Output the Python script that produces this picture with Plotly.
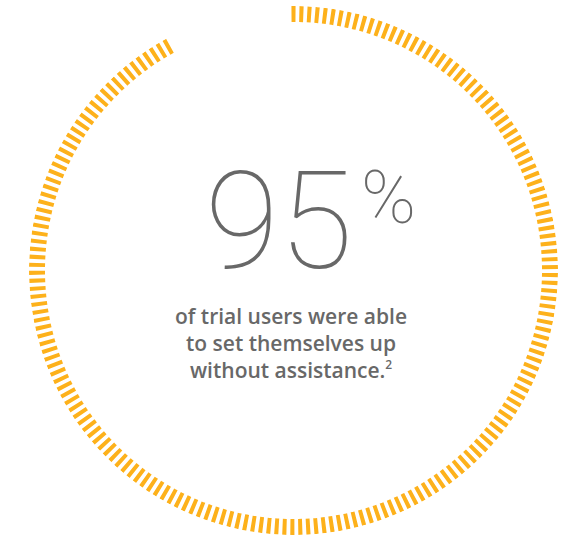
import plotly.graph_objects as go

# ---- data ----
percent_value = 95                      # headline value
ring_total_ticks = 200                  # ticks in a full ring
tick_step_deg = 1.75                    # angular spacing of ticks
headline_number = "95"
headline_unit = "%"
caption_lines = [
    "of trial users were able",
    "to set themselves up",
    "without assistance.<sup><span style='font-size:12px'>2</span></sup>",
]

# ---- styles ----
W, H = 569, 537
ORANGE = "#FDB11B"
GRAY = "#686868"

filled_ticks = round(ring_total_ticks * percent_value / 100)
thetas = [i * tick_step_deg for i in range(filled_ticks)]

cx, cy = 293.5, 270.5      # ring centre (px)
R_out = 264.5
tick_len = 16

fig = go.Figure()
fig.add_trace(go.Barpolar(
    theta=thetas,
    r=[tick_len] * filled_ticks,
    base=R_out - tick_len,
    width=0.9,
    marker=dict(color=ORANGE, line=dict(width=0)),
    hoverinfo="skip",
))

fig.update_layout(
    width=W, height=H,
    margin=dict(l=0, r=0, t=0, b=0),
    paper_bgcolor="white",
    plot_bgcolor="white",
    showlegend=False,
    polar=dict(
        domain=dict(x=[(cx - R_out) / W, (cx + R_out) / W],
                    y=[(H - cy - R_out) / H, (H - cy + R_out) / H]),
        bgcolor="white",
        radialaxis=dict(visible=False, range=[0, R_out]),
        angularaxis=dict(visible=False, rotation=90, direction="clockwise",
                         showgrid=False, showline=False, ticks=""),
    ),
)

def px(x, y):
    return x / W, 1 - y / H

annos = []
x, y = px(279, 222)
annos.append(dict(x=x, y=y, xref="paper", yref="paper", text=headline_number,
                  showarrow=False, xanchor="center", yanchor="middle",
                  font=dict(family="Roboto", size=135, color=GRAY, weight=100)))
x, y = px(388, 198)
annos.append(dict(x=x, y=y, xref="paper", yref="paper", text=headline_unit,
                  showarrow=False, xanchor="center", yanchor="middle",
                  font=dict(family="Roboto", size=74, color=GRAY, weight=100)))
for i, line in enumerate(caption_lines):
    x, y = px(291, 316 + 27 * i)
    annos.append(dict(x=x, y=y, xref="paper", yref="paper", text=line,
                      showarrow=False, xanchor="center", yanchor="middle",
                      font=dict(family="Open Sans", size=21, color=GRAY, weight=600)))
fig.update_layout(annotations=annos)

fig.write_html("out.html", config={"displayModeBar": False},
               post_script="document.body.style.margin='0';")
